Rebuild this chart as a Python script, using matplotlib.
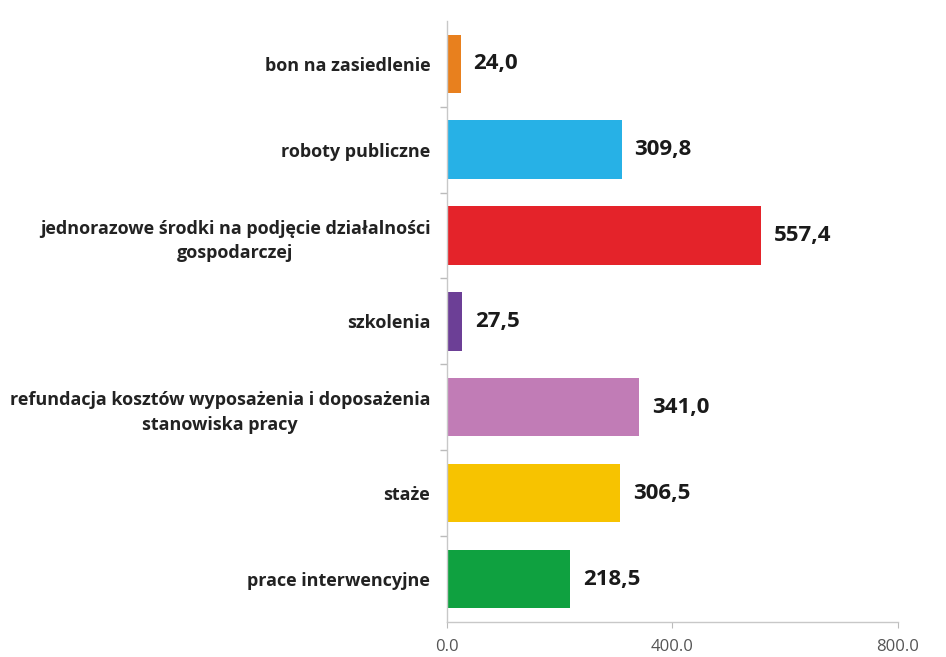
import matplotlib
matplotlib.use("Agg")
import matplotlib.pyplot as plt
from matplotlib.ticker import FixedLocator

# data, top to bottom as in the picture
categories = [
    "bon na zasiedlenie",
    "roboty publiczne",
    "jednorazowe środki na podjęcie działalności\ngospodarczej",
    "szkolenia",
    "refundacja kosztów wyposażenia i doposażenia\nstanowiska pracy",
    "staże",
    "prace interwencyjne",
]
values = [24.0, 309.8, 557.4, 27.5, 341.0, 306.5, 218.5]
colors = ["#E8801E", "#27B1E6", "#E4232A", "#6C3F96", "#C17CB6", "#F7C300", "#0FA140"]
xticks = [0, 400, 800]

fig = plt.figure(figsize=(9.46, 6.57), dpi=100)
ax = fig.add_axes([0.4725, 0.0533, 0.4765, 0.915])

n = len(categories)
ypos = list(range(n))[::-1]
ax.barh(ypos, values, height=0.68, color=colors, zorder=2)

for y, v in zip(ypos, values):
    ax.text(v + 23, y, f"{v:.1f}".replace(".", ","), va="center", ha="left",
            fontsize=16, fontweight="bold", color="#1a1a1a", family="Open Sans")

ax.set_xlim(0, 800)
ax.set_ylim(-0.5, n - 0.5)

ax.set_yticks(ypos)
ax.set_yticklabels(categories, fontsize=13, fontweight="bold", color="#222222",
                   family="Open Sans", ha="right", multialignment="center",
                   linespacing=1.45)
ax.tick_params(axis="y", length=0, pad=12)
# small marks between categories
ax.yaxis.set_minor_locator(FixedLocator([i + 0.5 for i in range(n - 1)]))
ax.tick_params(axis="y", which="minor", length=5, color="#bbbbbb", width=1)

ax.set_xticks(xticks)
ax.set_xticklabels([f"{t:.1f}" for t in xticks], fontsize=12, color="#555555", family="Open Sans")
ax.tick_params(axis="x", length=4, color="#bbbbbb", pad=8)

for s in ["top", "right"]:
    ax.spines[s].set_visible(False)
for s in ["left", "bottom"]:
    ax.spines[s].set_color("#c8c8c8")
    ax.spines[s].set_linewidth(1)

fig.savefig("out.png", dpi=100, facecolor="white")
